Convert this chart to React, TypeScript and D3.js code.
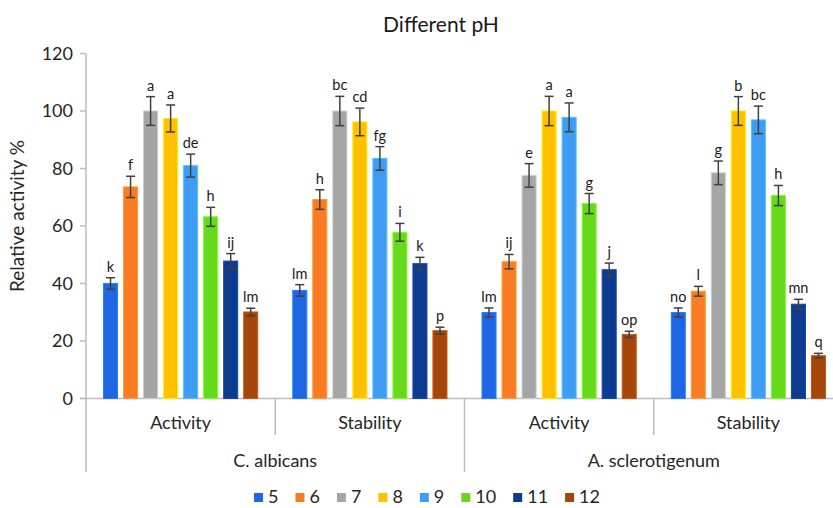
import React from 'react'
import * as d3 from 'd3'

const phLevels = ['5', '6', '7', '8', '9', '10', '11', '12']
const phColors = ['#1f66e5', '#f97c25', '#a5a5a5', '#ffc000', '#3e9df2', '#66d91c', '#0c3b8f', '#a5460a']
const organisms = ['C. albicans', 'A. sclerotigenum']
const assays = ['Activity', 'Stability']

// C. albicans
const albicansActivity = [40, 73.6, 100, 97.4, 81, 63.2, 47.8, 30.1]
const albicansActivityErr = [2, 3.7, 5, 4.7, 4, 3.3, 2.6, 1.3]
const albicansActivityLetters = ['k', 'f', 'a', 'a', 'de', 'h', 'ij', 'lm']
const albicansStability = [37.6, 69.2, 100, 96.2, 83.5, 57.8, 46.9, 23.6]
const albicansStabilityErr = [2, 3.4, 5.1, 4.8, 4.1, 3.1, 2.2, 1.2]
const albicansStabilityLetters = ['lm', 'h', 'bc', 'cd', 'fg', 'i', 'k', 'p']

// A. sclerotigenum
const sclerotigenumActivity = [29.9, 47.6, 77.6, 100, 97.8, 67.8, 44.8, 22.3]
const sclerotigenumActivityErr = [1.6, 2.5, 4.1, 5.1, 5, 3.5, 2.3, 1.1]
const sclerotigenumActivityLetters = ['lm', 'ij', 'e', 'a', 'a', 'g', 'j', 'op']
const sclerotigenumStability = [29.9, 37.3, 78.5, 100, 96.9, 70.6, 32.8, 14.9]
const sclerotigenumStabilityErr = [1.6, 1.7, 4.1, 5, 4.8, 3.5, 1.7, 0.8]
const sclerotigenumStabilityLetters = ['no', 'l', 'g', 'b', 'bc', 'h', 'mn', 'q']

const yTicks = [0, 20, 40, 60, 80, 100, 120]

const groups = [
  { org: organisms[0], assay: assays[0], values: albicansActivity, errs: albicansActivityErr, letters: albicansActivityLetters },
  { org: organisms[0], assay: assays[1], values: albicansStability, errs: albicansStabilityErr, letters: albicansStabilityLetters },
  { org: organisms[1], assay: assays[0], values: sclerotigenumActivity, errs: sclerotigenumActivityErr, letters: sclerotigenumActivityLetters },
  { org: organisms[1], assay: assays[1], values: sclerotigenumStability, errs: sclerotigenumStabilityErr, letters: sclerotigenumStabilityLetters },
]

const W = 833
const H = 508
const plotLeft = 86
const plotRight = 843
const plotTop = 53.5
const plotBottom = 398.5
const font = 'Lato, "Open Sans", sans-serif'
const axisColor = '#bdbdbd'
const textColor = '#262626'

const App = () => {
  const svgRef = React.useRef<SVGSVGElement>(null)

  React.useEffect(() => {
    const svg = d3.select(svgRef.current)
    svg.selectAll('*').remove()

    const keys = groups.map((g, i) => `${i}`)
    const x0 = d3.scaleBand(keys, [plotLeft, plotRight])
    const x1 = d3.scaleBand(phLevels, [0, x0.bandwidth()])
      .paddingInner(0.25)
      .paddingOuter(0.85)
    const y = d3.scaleLinear([0, 120], [plotBottom, plotTop])
    const color = d3.scaleOrdinal(phLevels, phColors)

    // title
    svg.append('text')
      .attr('x', 441)
      .attr('y', 32)
      .attr('text-anchor', 'middle')
      .attr('font-family', font)
      .attr('font-size', 21)
      .attr('fill', '#1a1a1a')
      .text('Different pH')

    // y axis
    const yAxis = svg.append('g')
    yAxis.append('line')
      .attr('x1', plotLeft).attr('x2', plotLeft)
      .attr('y1', y(120)).attr('y2', plotBottom)
      .attr('stroke', axisColor).attr('stroke-width', 1.5)
    yAxis.selectAll('line.tick')
      .data(yTicks)
      .join('line')
      .attr('class', 'tick')
      .attr('x1', plotLeft - 6).attr('x2', plotLeft)
      .attr('y1', (d) => y(d)).attr('y2', (d) => y(d))
      .attr('stroke', axisColor).attr('stroke-width', 1.5)
    yAxis.selectAll('text')
      .data(yTicks)
      .join('text')
      .attr('x', plotLeft - 13)
      .attr('y', (d) => y(d))
      .attr('dy', '0.35em')
      .attr('text-anchor', 'end')
      .attr('font-family', font)
      .attr('font-size', 18)
      .attr('fill', textColor)
      .text((d) => d)

    svg.append('text')
      .attr('transform', `translate(24, ${(plotTop + plotBottom) / 2 - 10}) rotate(-90)`)
      .attr('text-anchor', 'middle')
      .attr('font-family', font)
      .attr('font-size', 19)
      .attr('fill', textColor)
      .text('Relative activity %')

    // x axis, two-level categories
    const xAxis = svg.append('g')
    xAxis.append('line')
      .attr('x1', plotLeft - 6).attr('x2', plotRight)
      .attr('y1', plotBottom).attr('y2', plotBottom)
      .attr('stroke', axisColor).attr('stroke-width', 1.5)
    const bounds = keys.map((k) => x0(k)!).concat([plotRight])
    xAxis.selectAll('line.div')
      .data(bounds)
      .join('line')
      .attr('class', 'div')
      .attr('x1', (d) => d).attr('x2', (d) => d)
      .attr('y1', plotBottom)
      .attr('y2', (d, i) => (i % 2 === 0 ? 472 : 435))
      .attr('stroke', axisColor).attr('stroke-width', 1.5)
    xAxis.selectAll('text.assay')
      .data(groups)
      .join('text')
      .attr('class', 'assay')
      .attr('x', (d, i) => x0(keys[i])! + x0.bandwidth() / 2)
      .attr('y', 429)
      .attr('text-anchor', 'middle')
      .attr('font-family', font)
      .attr('font-size', 18)
      .attr('fill', textColor)
      .text((d) => d.assay)
    xAxis.selectAll('text.org')
      .data(organisms)
      .join('text')
      .attr('class', 'org')
      .attr('x', (d, i) => x0(keys[i * 2 + 1])!)
      .attr('y', 467)
      .attr('text-anchor', 'middle')
      .attr('font-family', font)
      .attr('font-size', 18)
      .attr('fill', textColor)
      .text((d) => d)

    // bars
    const group = svg.append('g')
      .selectAll('g')
      .data(groups)
      .join('g')
      .attr('transform', (d, i) => `translate(${x0(keys[i])},0)`)

    const cells = group.selectAll('g')
      .data((g) => phLevels.map((ph, j) => ({ ph, value: g.values[j], err: g.errs[j], letter: g.letters[j] })))
      .join('g')

    cells.append('rect')
      .attr('x', (d) => x1(d.ph)! + 0.5)
      .attr('y', (d) => y(d.value))
      .attr('width', x1.bandwidth() - 1)
      .attr('height', (d) => y(0) - y(d.value))
      .attr('fill', (d) => color(d.ph))
      .attr('stroke', (d) => d3.color(color(d.ph))!.brighter(0.6).formatHex())
      .attr('stroke-width', 1)

    const cx = (d) => x1(d.ph)! + x1.bandwidth() / 2
    cells.append('line')
      .attr('x1', cx).attr('x2', cx)
      .attr('y1', (d) => y(d.value + d.err)).attr('y2', (d) => y(d.value - d.err))
      .attr('stroke', '#404040').attr('stroke-width', 1.5)
    ;[1, -1].forEach((s) => {
      cells.append('line')
        .attr('x1', (d) => cx(d) - 4.5).attr('x2', (d) => cx(d) + 4.5)
        .attr('y1', (d) => y(d.value + s * d.err)).attr('y2', (d) => y(d.value + s * d.err))
        .attr('stroke', '#404040').attr('stroke-width', 1.5)
    })

    cells.append('text')
      .attr('x', cx)
      .attr('y', (d) => y(d.value + d.err) - 6)
      .attr('text-anchor', 'middle')
      .attr('font-family', font)
      .attr('font-size', 14.5)
      .attr('fill', '#1a1a1a')
      .text((d) => d.letter)

    // legend
    const legend = svg.append('g')
    const items = legend.selectAll('g')
      .data(phLevels)
      .join('g')
    items.append('rect')
      .attr('width', 9).attr('height', 9)
      .attr('y', 493)
      .attr('fill', (d) => color(d))
    const labels = items.append('text')
      .attr('x', 14)
      .attr('y', 503)
      .attr('font-family', font)
      .attr('font-size', 18)
      .attr('fill', textColor)
      .text((d) => d)
    let pos = 0
    const starts: number[] = []
    labels.each(function () {
      starts.push(pos)
      pos += 14 + (this as SVGTextElement).getComputedTextLength() + 17
    })
    const total = pos - 17
    const start = 427 - total / 2
    items.attr('transform', (d, i) => `translate(${start + starts[i]},0)`)
  }, [])

  return (
    <svg
      ref={svgRef}
      width={W}
      height={H}
      style={{ position: 'absolute', left: 0, top: 0, display: 'block', background: '#fff' }}
    />
  )
}

export default App
